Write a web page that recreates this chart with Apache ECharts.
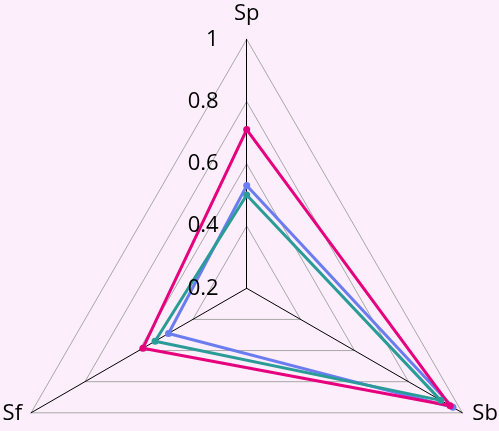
<!DOCTYPE html>
<html><head><meta charset="utf-8">
<script src="https://cdn.jsdelivr.net/npm/echarts@6/dist/echarts.min.js"></script>
<style>html,body{margin:0;padding:0;background:#FCEEFA;}#c{width:499px;height:431px;}</style>
</head><body><div id="c"></div>
<script>
const indicators = ['Sp', 'Sf', 'Sb'];
const tickLabels = ['0.2', '0.4', '0.6', '0.8', '1'];
const seriesBlue = [0.53, 0.49, 0.965];
const seriesMagenta = [0.71, 0.585, 0.955];
const seriesTeal = [0.50, 0.54, 0.92];

const CX = 246.7, CY = 288.3, R = 249;
const FONT = 'Open Sans';
const chart = echarts.init(document.getElementById('c'), null, {renderer: 'canvas'});
function s(name, data, color) {
  return {
    type: 'radar', name: name, symbol: 'circle', symbolSize: 7,
    lineStyle: {color: color, width: 3}, itemStyle: {color: color},
    data: [{value: data, name: name}]
  };
}
chart.setOption({
  backgroundColor: '#FCEEFA',
  animation: false,
  radar: {
    center: [CX, CY], radius: R, startAngle: 90, shape: 'polygon', splitNumber: 4,
    indicator: indicators.map(n => ({name: n, min: 0.2, max: 1})),
    axisName: {show: false},
    axisLine: {lineStyle: {color: '#000', width: 1}},
    splitLine: {lineStyle: {color: '#A8A8A8', width: 1}},
    splitArea: {show: false},
    axisTick: {show: false}, axisLabel: {show: false}
  },
  grid: {left: CX, top: CY - R, width: 10, height: R},
  xAxis: {type: 'value', show: false},
  yAxis: {
    type: 'value', min: 0.2, max: 1, interval: 0.2, position: 'left', z: 10,
    axisLine: {show: false}, axisTick: {show: false}, splitLine: {show: false},
    axisLabel: {margin: 28, fontSize: 22, fontFamily: FONT, color: '#000',
      formatter: v => tickLabels[Math.round((v - 0.2) / 0.2)] }
  },
  graphic: [
    {type: 'text', x: CX, y: CY - R - 26, style: {text: indicators[0], font: '22px ' + FONT, fill: '#000', align: 'center', verticalAlign: 'middle'}},
    {type: 'text', x: CX - R * 0.866 - 9, y: CY + R * 0.5 + 1, style: {text: indicators[1], font: '22px ' + FONT, fill: '#000', align: 'right', verticalAlign: 'middle'}},
    {type: 'text', x: CX + R * 0.866 + 10, y: CY + R * 0.5 + 1, style: {text: indicators[2], font: '22px ' + FONT, fill: '#000', align: 'left', verticalAlign: 'middle'}}
  ],
  series: [
    s('Series 1', seriesBlue, '#6B7CF0'),
    s('Series 2', seriesMagenta, '#E6007E'),
    s('Series 3', seriesTeal, '#2A9C98')
  ]
});
</script></body></html>
